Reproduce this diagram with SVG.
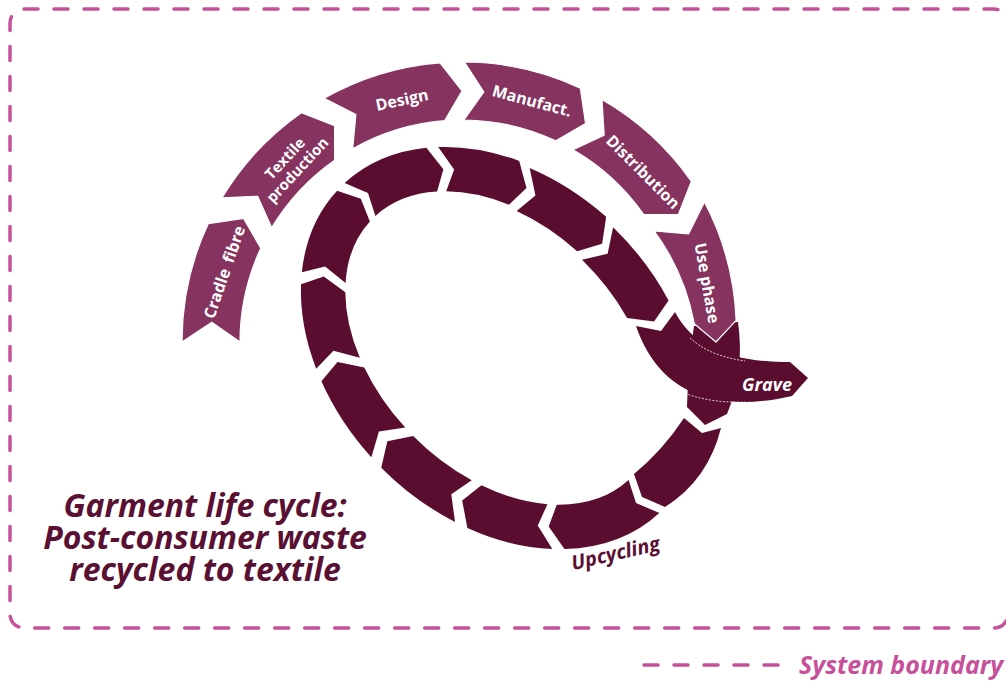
<svg xmlns="http://www.w3.org/2000/svg" width="1006" height="682" viewBox="0 0 1006 682">
  <style>
    .stage { fill: #86335F; stroke: #ffffff; stroke-width: 1.2; stroke-linejoin: round; }
    .loop { fill: #5A0D2F; }
    .lbl { font-family: "Open Sans", "Noto Sans", "DejaVu Sans", sans-serif; font-weight: 700; fill: #ffffff; text-anchor: middle; }
    .it { font-style: italic; }
    .title { font-family: "Open Sans", "Noto Sans", "DejaVu Sans", sans-serif; font-weight: 700; font-style: italic; fill: #5A1032; text-anchor: middle; }
    .boundary { fill: none; stroke: #C6519A; stroke-width: 3.5; stroke-dasharray: 14 16; stroke-linecap: round; }
    .legend-text { font-family: "Open Sans", "Noto Sans", "DejaVu Sans", sans-serif; font-weight: 700; font-style: italic; font-size: 25px; fill: #C6519A; }
    .seam { fill: none; stroke: #ffffff; stroke-width: 0.8; stroke-dasharray: 2 1.5; }
  </style>

  <rect width="1006" height="682" fill="#ffffff"/>

  <!-- system boundary frame -->
  <rect id="system-boundary" class="boundary" x="10" y="9" width="998" height="619" rx="14" ry="14"/>

  <!-- recycling loop: chevron segments on an ellipse, local frame rotated 45deg -->
  <g id="connectors">
    <g id="recycle-loop" class="loop" transform="translate(502 348) rotate(45)">
      <path d="M227.89 5.34 A228 170 0 0 1 186.31 97.99 L159.25 93.22 L149.54 72.05 A183 125 0 0 0 182.91 3.93 L204.45 14.91 Z"/>
      <path d="M177.69 106.52 A228 170 0 0 1 102.80 151.74 L79.64 135.97 L82.51 111.57 A183 125 0 0 0 142.62 78.33 L150.78 100.22 Z"/>
      <path d="M89.82 156.25 A228 170 0 0 1 -0.80 170.00 L-15.05 147.10 L-0.64 125.00 A183 125 0 0 0 72.09 114.89 L67.58 139.30 Z"/>
      <path d="M-15.11 169.63 A228 170 0 0 1 -104.21 151.21 L-106.45 126.17 L-83.64 111.18 A183 125 0 0 0 -12.13 124.73 L-27.89 146.14 Z"/>
      <path d="M-116.75 146.02 A228 170 0 0 1 -187.22 97.02 L-176.52 75.53 L-150.27 71.34 A183 125 0 0 0 -93.70 107.37 L-117.28 121.12 Z"/>
      <path d="M-195.02 88.07 A228 170 0 0 1 -227.89 5.34 L-205.35 -5.66 L-182.91 3.93 A183 125 0 0 0 -156.53 64.75 L-182.78 67.41 Z"/>
      <path d="M-227.89 -5.34 A228 170 0 0 1 -195.02 -88.07 L-167.92 -85.02 L-156.53 -64.75 A183 125 0 0 0 -182.91 -3.93 L-204.45 -14.91 Z"/>
      <path d="M-187.22 -97.02 A228 170 0 0 1 -120.15 -144.48 L-95.84 -130.48 L-96.43 -106.24 A183 125 0 0 0 -150.27 -71.34 L-160.15 -92.42 Z"/>
      <path transform="translate(0 3)" d="M-107.74 -149.82 A228 170 0 0 1 -19.08 -169.40 L-2.87 -147.49 L-15.31 -124.56 A183 125 0 0 0 -86.48 -110.16 L-84.24 -134.54 Z"/>
      <path transform="translate(-2 6)" d="M-4.77 -169.96 A228 170 0 0 1 86.15 -157.40 L90.73 -132.35 L69.14 -115.73 A183 125 0 0 0 -3.83 -124.97 L10.04 -147.32 Z"/>
    </g>
    <!-- spiral hand-over from the use phase into the loop -->
    <path id="loop-entry" class="loop" d="M738 322 Q745 372 727 414 L705 425 L687 407 Q688 365 694 326 Z"/>
    <path id="loop-first" class="loop" d="M721 428 Q708 480 665 507 L642 497 L634 474 Q663 450 684 418 L702 433 Z"/>
  </g>

  <!-- life-cycle stages on the outer arc -->
  <g id="stage-cradle">
    <path class="stage" d="M182 342 A280 280 0 0 1 208.23 223.67 L243.54 218.40 L260.80 248.18 A222 222 0 0 0 240 342 L211.77 322.31 Z"/>
    <text class="lbl" style="font-size:16px" word-spacing="3" transform="translate(224 272) rotate(-71)" y="6">Cradle fibre</text>
  </g>
  <g id="stage-textile">
    <path class="stage" d="M221.99 197.79 A280 280 0 0 1 301.40 112.64 L334.61 125.73 L334.67 160.15 A222 222 0 0 0 271.71 227.66 L257.66 196.24 Z"/>
    <g transform="translate(291 164) rotate(-47)">
      <text class="lbl" style="font-size:15px" y="-3">Textile</text>
      <text class="lbl" style="font-size:15px" y="14">production</text>
    </g>
  </g>
  <g id="stage-design">
    <path class="stage" d="M324.12 98.30 A280 280 0 0 1 440.03 62.86 L462 91 L444.58 120.68 A222 222 0 0 0 352.68 148.78 L355.92 114.52 Z"/>
    <text class="lbl" style="font-size:16px" transform="translate(402 100) rotate(-12)" y="5.5">Design</text>
  </g>
  <g id="stage-manufacture">
    <path class="stage" d="M464.44 62.01 A280 280 0 0 1 580.33 88.23 L585.60 123.54 L555.82 140.80 A222 222 0 0 0 463.94 120.01 L483.88 91.96 Z"/>
    <text class="lbl" style="font-size:16px" transform="translate(532 101) rotate(15)" y="5.5">Manufact.</text>
  </g>
  <g id="stage-distribution">
    <path class="stage" d="M602 99.51 A280 280 0 0 1 691.36 181.40 L678.27 214.61 L643.85 214.67 A222 222 0 0 0 573 149.74 L604.17 135.14 Z"/>
    <text class="lbl" style="font-size:16px" transform="translate(643 172) rotate(45)" y="5.5">Distribution</text>
  </g>
  <g id="stage-use">
    <path class="stage" d="M704.49 202 A278 278 0 0 1 736.15 320.42 L716 342 L694.28 323.72 A228 228 0 0 0 654.26 231 L688.55 233.94 Z"/>
    <text class="lbl" style="font-size:16px" transform="translate(707 283) rotate(80)" y="5.5">Use phase</text>
  </g>

  <!-- end of life exit -->
  <g id="stage-grave">
    <path class="loop" d="M636 326 L661 331 L675 312 C695 350 735 362 790 362 L808 378 L792 396 C740 408 665 410 636 326 Z"/>
    <path class="seam" d="M690 338 C705 352 725 358 745 361"/>
    <path class="seam" d="M682 392 C700 400 725 403 745 402"/>
    <text class="lbl it" style="font-size:18px" x="767" y="391">Grave</text>
  </g>

  <g id="label-upcycling">
    <text class="title" style="font-size:20px" transform="translate(617 560) rotate(-13)">Upcycling</text>
  </g>

  <g id="title">
    <text class="title" style="font-size:32px" x="205" y="517">Garment life cycle:</text>
    <text class="title" style="font-size:32px" x="205" y="549">Post-consumer waste</text>
    <text class="title" style="font-size:32px" x="205" y="581">recycled to textile</text>
  </g>

  <g id="legend">
    <line class="boundary" x1="644" y1="665" x2="786" y2="665" stroke-dasharray="14 17.5"/>
    <text class="legend-text" x="799" y="674">System boundary</text>
  </g>
</svg>
